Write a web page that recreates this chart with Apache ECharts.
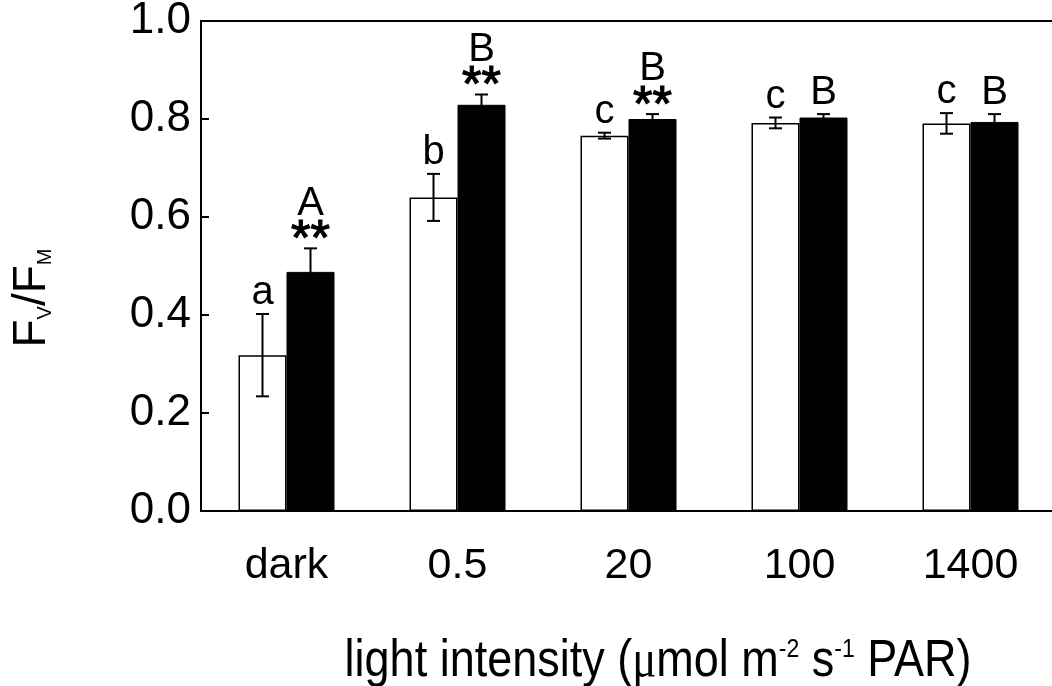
<!DOCTYPE html>
<html>
<head>
<meta charset="utf-8">
<script src="https://cdn.jsdelivr.net/npm/echarts@6/dist/echarts.min.js"></script>
<style>
html,body{margin:0;padding:0;background:#fff;}
#chart{width:1052px;height:686px;}
</style>
</head>
<body>
<div id="chart"></div>
<script>
const categories = ['dark', '0.5', '20', '100', '1400'];
const openMeans = [0.318, 0.640, 0.766, 0.792, 0.791];
const openErr = [0.084, 0.048, 0.006, 0.011, 0.021];
const filledMeans = [0.488, 0.829, 0.800, 0.803, 0.794];
const filledErr = [0.048, 0.021, 0.010, 0.007, 0.016];
const openLetters = ['a', 'b', 'c', 'c', 'c'];
const filledLetters = ['A', 'B', 'B', 'B', 'B'];
const filledStars = ['**', '**', '**', '', ''];
const yMin = 0, yMax = 1, yStep = 0.2;

const FONT = '"Liberation Sans", Arial, sans-serif';
const chart = echarts.init(document.getElementById('chart'), null, {renderer: 'canvas'});

function errSeries(name, means, errs, letters, stars, offset) {
  return {
    type: 'custom',
    name: name,
    z: 10,
    clip: false,
    data: means.map((m, i) => [i, m, errs[i]]),
    renderItem: function (params, api) {
      const i = api.value(0), m = api.value(1), e = api.value(2);
      const cx = api.coord([i, m])[0] + offset;
      const yt = api.coord([i, m + e])[1];
      const yb = api.coord([i, m - e])[1];
      const ls = {stroke: '#000', lineWidth: 2};
      const children = [
        {type: 'line', shape: {x1: cx, y1: yt, x2: cx, y2: yb}, style: ls},
        {type: 'line', shape: {x1: cx - 6.5, y1: yt, x2: cx + 6.5, y2: yt}, style: ls},
        {type: 'line', shape: {x1: cx - 6.5, y1: yb, x2: cx + 6.5, y2: yb}, style: ls}
      ];
      const idx = params.dataIndex;
      const st = stars[idx];
      const letterFs = 40;
      let baseline;
      if (st) {
        const starFs = 50;
        children.push({type: 'text', x: cx, y: yt - 7, style: {
          text: st, fontSize: starFs, fontFamily: FONT, fill: '#000', stroke: '#000', lineWidth: 1.2,
          align: 'center', verticalAlign: 'middle', textAlign: 'center', textVerticalAlign: 'middle'}});
        baseline = yt - 31;
      } else {
        baseline = yt - 7;
      }
      children.push({type: 'text', x: cx, y: baseline - 0.3465 * letterFs, style: {
        text: letters[idx], fontSize: letterFs, fontFamily: FONT, fill: '#000',
        align: 'center', verticalAlign: 'middle', textAlign: 'center', textVerticalAlign: 'middle'}});
      return {type: 'group', children: children};
    }
  };
}

const option = {
  backgroundColor: '#fff',
  animation: false,
  grid: {left: 201, top: 21, width: 855, height: 490, show: true, containLabel: false,
    outerBoundsMode: 'none',
    borderColor: '#000', borderWidth: 2, backgroundColor: 'transparent'},
  xAxis: {
    type: 'category', data: categories,
    axisLine: {show: true, lineStyle: {color: '#000', width: 2}},
    axisTick: {show: false},
    axisLabel: {color: '#000', fontSize: 43, fontFamily: FONT, margin: 34}
  },
  yAxis: {
    type: 'value', min: yMin, max: yMax, interval: yStep,
    axisLine: {show: true, lineStyle: {color: '#000', width: 2}},
    axisTick: {show: true, inside: true, length: 8, lineStyle: {color: '#000', width: 2}},
    splitLine: {show: false},
    axisLabel: {color: '#000', fontSize: 44, fontFamily: FONT, margin: 10,
      formatter: v => v.toFixed(1)}
  },
  series: [
    {type: 'bar', name: 'open', data: openMeans, barWidth: 48, barGap: '0%',
      itemStyle: {color: '#fff', borderColor: '#000', borderWidth: 1.5}},
    {type: 'bar', name: 'filled', data: filledMeans, barWidth: 48, barGap: '0%',
      itemStyle: {color: '#000', borderColor: '#000', borderWidth: 1}},
    errSeries('openErr', openMeans, openErr, openLetters, ['', '', '', '', ''], -24),
    errSeries('filledErr', filledMeans, filledErr, filledLetters, filledStars, 24)
  ],
  graphic: [
    {type: 'text', x: 32, y: 298, rotation: Math.PI / 2,
      style: {text: '{f|F}{s|V}{f|/F}{s|M}', fill: '#000',
        align: 'center', verticalAlign: 'middle', textAlign: 'center', textVerticalAlign: 'middle',
        rich: {
          f: {fontSize: 46, fontFamily: FONT, fill: '#000', color: '#000'},
          s: {fontSize: 20, fontFamily: FONT, fill: '#000', color: '#000', verticalAlign: 'bottom'}
        }}},
    {type: 'text', x: 658, y: 662, scaleY: 1.15,
      style: {text: '{n|light intensity (}{mu|μ}{n|mol m}{sup|-2}{n| s}{sup|-1}{n| PAR)}', fill: '#000',
        align: 'center', verticalAlign: 'middle', textAlign: 'center', textVerticalAlign: 'middle',
        rich: {
          n: {fontSize: 45, fontFamily: FONT, fill: '#000', color: '#000'},
          mu: {fontSize: 45, fontFamily: '"Liberation Serif", serif', fill: '#000', color: '#000'},
          sup: {fontSize: 23, fontFamily: FONT, fill: '#000', color: '#000', verticalAlign: 'top'}
        }}}
  ]
};
chart.setOption(option);
</script>
</body>
</html>
